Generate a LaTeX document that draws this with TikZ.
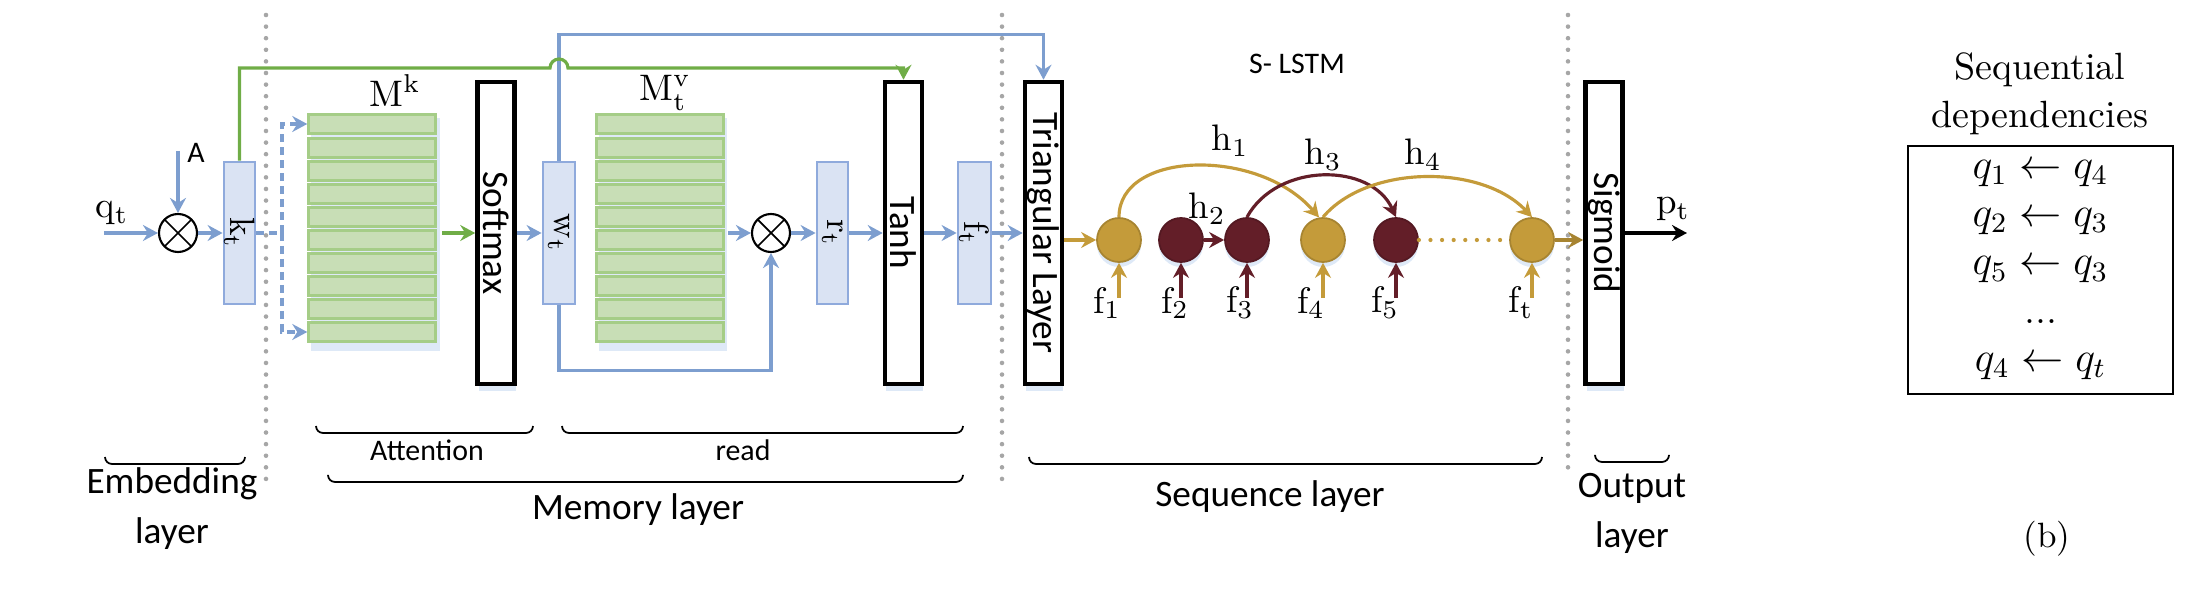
\documentclass[tikz,border=0pt]{standalone}
\usepackage{amsmath}
\usepackage{fontspec}
\usepackage{xcolor}
\usepackage{tikz}
\usetikzlibrary{arrows.meta, positioning, shadows}
\newfontfamily\carlito{Carlito}
\definecolor{lineblue}{RGB}{125,158,207}
\definecolor{boxblue}{RGB}{218,227,243}
\definecolor{edgeblue}{RGB}{143,170,220}
\definecolor{shadeblue}{RGB}{222,233,247}
\definecolor{linegreen}{RGB}{112,173,71}
\definecolor{rowgreen}{RGB}{200,222,182}
\definecolor{edgegreen}{RGB}{165,205,135}
\definecolor{cellgold}{RGB}{196,155,58}
\definecolor{cellred}{RGB}{99,30,40}
\definecolor{dotgray}{RGB}{166,166,166}

\begin{document}
\begin{tikzpicture}[
	vec/.style={draw=edgeblue, fill=boxblue, line width=0.8pt, minimum width=0.31cm, minimum height=1.42cm, inner sep=0pt},
	stage/.style={draw=black, fill=white, line width=1.3pt, minimum width=0.37cm, minimum height=3.02cm, inner sep=0pt, font=\carlito\fontsize{10.6}{12}\selectfont, drop shadow={fill=shadeblue, opacity=1, shadow xshift=0.01cm, shadow yshift=-0.07cm}},
	mul/.style={circle, draw=black, fill=white, line width=0.6pt, minimum size=0.38cm, inner sep=0pt, path picture={\draw[line width=0.5pt] (path picture bounding box.north west) -- (path picture bounding box.south east) (path picture bounding box.north east) -- (path picture bounding box.south west);}},
	memrow/.style={draw=edgegreen, fill=rowgreen, line width=0.7pt, minimum width=1.27cm, minimum height=0.19cm, inner sep=0pt},
	cell/.style={circle, draw=#1!85!black, fill=#1, line width=0.5pt, minimum size=0.44cm, inner sep=0pt, drop shadow={fill=shadeblue, opacity=1, shadow xshift=0cm, shadow yshift=-0.05cm}},
	link/.style={draw=#1, line width=0.9pt, -{Stealth[length=1.5mm, width=1.6mm, inset=0.5mm]}},
	dots/.style={draw=#1, line width=1.3pt, line cap=round, dash pattern=on 0pt off 3.3pt},
	brace/.style={draw=black, line width=0.5pt, rounded corners=0.07cm},
	txt/.style={font=\carlito\fontsize{10.6}{14.2}\selectfont, align=center, inner sep=0pt},
	note/.style={font=\carlito\fontsize{8.5}{10}\selectfont, inner sep=0pt},
	sym/.style={font=\fontsize{10.5}{12}\selectfont, inner sep=0pt}]
	% Blocks, links and labels:
	\useasboundingbox (0,0) rectangle (22.04,6.06);
	\draw[dots=dotgray] (2.66,5.91) -- (2.66,1.23);
	\draw[dots=dotgray] (10.02,5.91) -- (10.02,1.21);
	\draw[dots=dotgray] (15.68,5.91) -- (15.68,1.34);
	\coordinate (qin) at (1.04,3.73);
	\coordinate (ain) at (1.78,4.55);
	\node[sym] (qlbl) at (1.12,3.93) {$\mathrm{q_t}$};
	\node[note] (albl) at (1.96,4.53) {A};
	\node[mul] (mul1) at (1.78,3.73) {};
	\node[vec] (kt) at (2.395,3.73) {\rotatebox{-90}{$\mathrm{k_t}$}};
	\draw[link=lineblue] (qin) -- (mul1);
	\draw[link=lineblue] (ain) -- (mul1);
	\draw[link=lineblue] (mul1) -- (kt);
	\fill[shadeblue] (3.11,2.55) rectangle (4.40,4.88);
	\node[memrow] (mk1) at (3.72,4.82) {};
	\node[memrow] (mk2) at (3.72,4.58) {};
	\node[memrow] (mk3) at (3.72,4.35) {};
	\node[memrow] (mk4) at (3.72,4.12) {};
	\node[memrow] (mk5) at (3.72,3.89) {};
	\node[memrow] (mk6) at (3.72,3.66) {};
	\node[memrow] (mk7) at (3.72,3.43) {};
	\node[memrow] (mk8) at (3.72,3.20) {};
	\node[memrow] (mk9) at (3.72,2.97) {};
	\node[memrow] (mk10) at (3.72,2.74) {};
	\node[sym] (mklbl) at (3.95,5.15) {$\mathrm{M^k}$};
	\coordinate (split) at (2.82,3.73);
	\draw[draw=lineblue, line width=0.9pt, dash pattern=on 0.08cm off 0.05cm] (kt) -- (split);
	\draw[link=lineblue, dash pattern=on 0.08cm off 0.05cm] (split) |- (mk1);
	\draw[link=lineblue, dash pattern=on 0.08cm off 0.05cm] (split) |- (mk10);
	\coordinate (mkout) at (4.42,3.73);
	\node[stage] (soft) at (4.96,3.73) {\rotatebox{-90}{Softmax}};
	\draw[link=linegreen] (mkout) -- (soft);
	\node[vec, minimum width=0.32cm] (wt) at (5.59,3.73) {\rotatebox{-90}{$\mathrm{w_t}$}};
	\draw[link=lineblue] (soft) -- (wt);
	\fill[shadeblue] (5.99,2.55) rectangle (7.27,4.88);
	\node[memrow] (mv1) at (6.60,4.82) {};
	\node[memrow] (mv2) at (6.60,4.58) {};
	\node[memrow] (mv3) at (6.60,4.35) {};
	\node[memrow] (mv4) at (6.60,4.12) {};
	\node[memrow] (mv5) at (6.60,3.89) {};
	\node[memrow] (mv6) at (6.60,3.66) {};
	\node[memrow] (mv7) at (6.60,3.43) {};
	\node[memrow] (mv8) at (6.60,3.20) {};
	\node[memrow] (mv9) at (6.60,2.97) {};
	\node[memrow] (mv10) at (6.60,2.74) {};
	\node[sym] (mvlbl) at (6.65,5.13) {$\mathrm{M^v_t}$};
	\coordinate (mvout) at (7.28,3.73);
	\node[mul] (mul2) at (7.71,3.73) {};
	\node[vec] (rt) at (8.325,3.73) {\rotatebox{-90}{$\mathrm{r_t}$}};
	\node[stage] (tanh) at (9.035,3.73) {\rotatebox{-90}{Tanh}};
	\node[vec, minimum width=0.33cm] (ft) at (9.745,3.73) {\rotatebox{-90}{$\mathrm{f_t}$}};
	\node[stage] (tri) at (10.435,3.73) {\rotatebox{-90}{Triangular Layer}};
	\draw[link=lineblue] (mvout) -- (mul2);
	\draw[link=lineblue] (mul2) -- (rt);
	\draw[link=lineblue] (rt) -- (tanh);
	\draw[link=lineblue] (tanh) -- (ft);
	\draw[link=lineblue] (ft) -- (tri);
	\draw[link=lineblue] (wt.south) -- ++(0,-0.65) -| (mul2);
	\draw[link=lineblue] (wt.north) |- ([yshift=0.45cm]tri.north) -- (tri.north);
	\draw[link=linegreen] (kt.north) |- (5.50,5.38) arc[start angle=180, end angle=0, radius=0.09] -| (tanh.north);
	\node[note] (slstm) at (12.97,5.42) {S- LSTM};
	\node[cell=cellgold] (c1) at (11.19,3.66) {};
	\node[cell=cellred] (c2) at (11.81,3.66) {};
	\node[cell=cellred] (c3) at (12.47,3.66) {};
	\node[cell=cellgold] (c4) at (13.23,3.66) {};
	\node[cell=cellred] (c5) at (13.96,3.66) {};
	\node[cell=cellgold] (c6) at (15.32,3.66) {};
	\node[stage] (sig) at (16.04,3.73) {\rotatebox{-90}{Sigmoid}};
	\draw[link=cellgold] (tri.east |- c1) -- (c1);
	\draw[link=cellred] (c2) -- (c3);
	\draw[dots=cellgold, line width=1.2pt] (c5) -- (c6);
	\draw[link=cellgold!85!black] (c6) -- (c6 -| sig.west);
	\draw[link=cellgold] (c1.north) .. controls +(0,0.67) and +(-0.6,0.7) .. (c4.100);
	\draw[link=cellred] (c3.north) .. controls +(0.3,0.55) and +(-0.25,0.55) .. (c5.north);
	\draw[link=cellgold] (c4.north) .. controls +(0.45,0.53) and +(-0.5,0.53) .. (c6.north);
	\node[sym] (h1) at (12.30,4.65) {$\mathrm{h_1}$};
	\node[sym] (h2) at (12.07,3.97) {$\mathrm{h_2}$};
	\node[sym] (h3) at (13.23,4.51) {$\mathrm{h_3}$};
	\node[sym] (h4) at (14.23,4.51) {$\mathrm{h_4}$};
	\coordinate (f1in) at (11.19,3.08);
	\coordinate (f2in) at (11.81,3.08);
	\coordinate (f3in) at (12.47,3.08);
	\coordinate (f4in) at (13.23,3.08);
	\coordinate (f5in) at (13.96,3.08);
	\coordinate (f6in) at (15.32,3.08);
	\draw[link=cellgold] (f1in) -- (c1);
	\draw[link=cellred] (f2in) -- (c2);
	\draw[link=cellred] (f3in) -- (c3);
	\draw[link=cellgold] (f4in) -- (c4);
	\draw[link=cellred] (f5in) -- (c5);
	\draw[link=cellgold] (f6in) -- (c6);
	\node[sym] (f1) at (11.07,3.03) {$\mathrm{f_1}$};
	\node[sym] (f2) at (11.75,3.03) {$\mathrm{f_2}$};
	\node[sym] (f3) at (12.40,3.03) {$\mathrm{f_3}$};
	\node[sym] (f4) at (13.11,3.03) {$\mathrm{f_4}$};
	\node[sym] (f5) at (13.85,3.03) {$\mathrm{f_5}$};
	\node[sym] (f6) at (15.21,3.03) {$\mathrm{f_t}$};
	\coordinate (pout) at (16.87,3.73);
	\draw[link=black] (sig) -- (pout);
	\node[sym] (plbl) at (16.73,3.97) {$\mathrm{p_t}$};
	\draw[brace] (1.05,1.49) |- (2.45,1.42) -- (2.45,1.49);
	\draw[brace] (3.16,1.80) |- (5.33,1.73) -- (5.33,1.80);
	\draw[brace] (5.62,1.80) |- (9.63,1.73) -- (9.63,1.80);
	\draw[brace] (3.28,1.31) |- (9.63,1.24) -- (9.63,1.31);
	\draw[brace] (10.29,1.49) |- (15.42,1.42) -- (15.42,1.49);
	\draw[brace] (15.95,1.51) |- (16.69,1.44) -- (16.69,1.51);
	\node[txt] (emb) at (1.72,0.97) {Embedding\\layer};
	\node[note] (att) at (4.27,1.56) {Attention};
	\node[note] (rd) at (7.43,1.56) {read};
	\node[txt] (mem) at (6.38,0.96) {Memory layer};
	\node[txt] (seq) at (12.70,1.09) {Sequence layer};
	\node[txt] (outl) at (16.32,0.93) {Output\\layer};
	\node[font=\fontsize{10.8}{13.6}\selectfont, align=center, inner sep=0pt] (title) at (20.40,5.12) {Sequential\\dependencies};
	\node[draw, line width=0.6pt, minimum width=2.65cm, minimum height=2.48cm, align=center, inner sep=0pt, font=\fontsize{11.5}{13.75}\selectfont] (deps) at (20.405,3.36) {$q_1 \leftarrow q_4$\\$q_2 \leftarrow q_3$\\$q_5 \leftarrow q_3$\\...\\$q_4 \leftarrow q_t$};
	\node[font=\fontsize{10}{12}\selectfont, inner sep=0pt] (tagb) at (20.47,0.67) {(b)};
\end{tikzpicture}
\end{document}
